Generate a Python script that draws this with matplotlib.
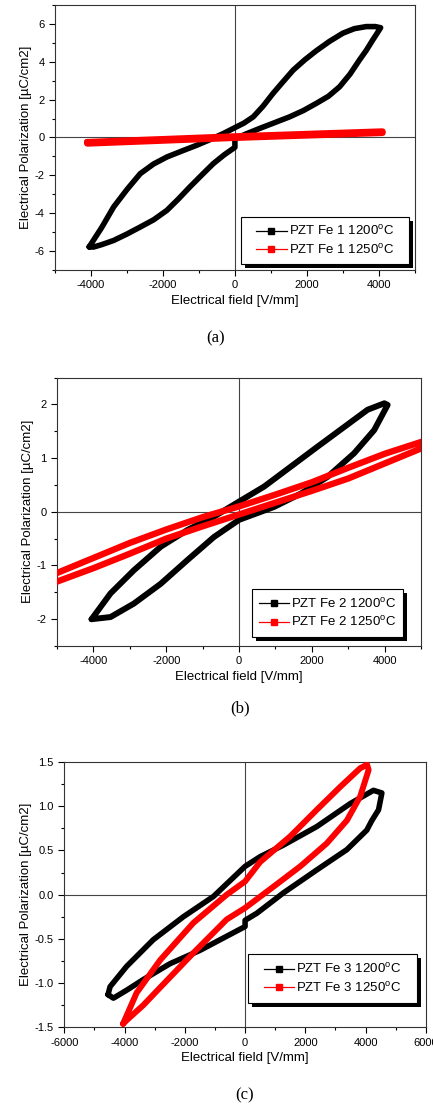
import matplotlib
matplotlib.use('Agg')
import matplotlib.pyplot as plt
import matplotlib.patheffects as pe
from matplotlib.lines import Line2D
from matplotlib.patches import Rectangle
from matplotlib.ticker import MultipleLocator

plt.rcParams['font.family'] = ['Liberation Sans', 'DejaVu Sans']
plt.rcParams['mathtext.fontset'] = 'custom'
plt.rcParams['mathtext.rm'] = 'Liberation Sans'
plt.rcParams['axes.unicode_minus'] = False

# P-E hysteresis loops, field in V/mm, polarization in uC/cm2
# each loop is one closed path: upper branch left->right, then back along the lower branch
fe1_1200_E = [-4050, -3700, -3370, -3000, -2630, -2260, -1890, -1480, -1060, -700, -320, 0,
              250, 510, 780, 1060, 1340, 1620, 1940, 2260, 2630, 3000, 3320, 3650, 3900, 4050,
              3950, 3830, 3650, 3460, 3200, 2910, 2600, 2260, 1900, 1520, 1100, 690, 300, 0,
              0, -300, -600, -920, -1250, -1570, -1890, -2260, -2630, -3000, -3370, -3700, -3930, -4050]
fe1_1200_P = [-5.78, -4.75, -3.67, -2.75, -1.91, -1.40, -1.03, -0.72, -0.41, -0.12, 0.21, 0.52,
              0.76, 1.09, 1.65, 2.33, 2.95, 3.56, 4.10, 4.58, 5.08, 5.51, 5.75, 5.86, 5.86, 5.80,
              5.50, 5.15, 4.60, 4.09, 3.35, 2.68, 2.18, 1.80, 1.42, 1.09, 0.78, 0.48, 0.18, -0.08,
              -0.52, -0.92, -1.38, -1.98, -2.61, -3.25, -3.85, -4.35, -4.73, -5.10, -5.44, -5.66, -5.79, -5.78]
fe1_1250_E = [-4100, 0, 4100, 4100, 0, -4100, -4100]
fe1_1250_P = [-0.25, 0.05, 0.31, 0.25, -0.01, -0.31, -0.25]

fe2_1200_E = [-4050, -3530, -2890, -2150, -1420, -690, 0, 690, 1420, 2150, 2890, 3530, 3990, 4080,
              3710, 3160, 2430, 1700, 960, 0, -690, -1420, -2150, -2890, -3530, -4050]
fe2_1200_P = [-2.00, -1.52, -1.09, -0.65, -0.34, -0.09, 0.19, 0.47, 0.84, 1.21, 1.58, 1.90, 2.02, 1.99,
              1.52, 1.09, 0.65, 0.34, 0.09, -0.15, -0.47, -0.90, -1.34, -1.71, -1.96, -2.00]
fe2_1250_E = [-5300, -5000, -4000, -3000, -2000, -1000, 0, 1000, 2000, 3000, 4000, 5000, 5300,
              5000, 4000, 3000, 2000, 1000, 0, -1000, -2000, -3000, -4000, -5000, -5300]
fe2_1250_P = [-1.31, -1.14, -0.86, -0.58, -0.33, -0.10, 0.10, 0.32, 0.55, 0.82, 1.08, 1.30, 1.33,
              1.18, 0.90, 0.62, 0.39, 0.17, -0.05, -0.27, -0.50, -0.78, -1.05, -1.30, -1.31]

fe3_1200_E = [-4550, -4480, -3930, -3050, -2050, -1050, 0, 500, 1270, 2380, 3490, 4260, 4540,
              4430, 4210, 4040, 3380, 2380, 1270, 390, 0,
              0, -610, -1500, -2490, -3380, -3930, -4370, -4550]
fe3_1200_P = [-1.13, -1.04, -0.81, -0.51, -0.25, -0.02, 0.32, 0.43, 0.56, 0.77, 1.03, 1.18, 1.15,
              0.96, 0.84, 0.73, 0.51, 0.28, 0.02, -0.21, -0.29,
              -0.36, -0.47, -0.63, -0.78, -0.96, -1.08, -1.17, -1.13]
fe3_1250_E = [-4050, -3600, -2820, -1720, -610, 0, 500, 1500, 2380, 3160, 3820, 4050,
              4100, 3820, 3380, 2710, 1830, 940, 0, -610, -1720, -2820, -3380, -3930, -4050]
fe3_1250_P = [-1.46, -1.11, -0.74, -0.32, 0.00, 0.15, 0.37, 0.66, 0.96, 1.22, 1.43, 1.47,
              1.41, 1.11, 0.84, 0.58, 0.32, 0.09, -0.15, -0.28, -0.66, -1.05, -1.25, -1.42, -1.46]

panels = [
    dict(rect=[0.127, 0.757, 0.831, 0.2385], xlim=(-5000, 5000), ylim=(-7, 7), ymaj=2, ymin=1,
         xmaj=2000, yfmt='%d', num=1,
         loops=[(fe1_1200_E, fe1_1200_P, 4.0), (fe1_1250_E, fe1_1250_P, 4.8)],
         box=(0.517, 0.023, 0.983, 0.200), tag='(a)', tag_xy=(216, 338)),
    dict(rect=[0.1316, 0.4185, 0.841, 0.2417], xlim=(-5000, 5000), ylim=(-2.5, 2.5), ymaj=1, ymin=0.5,
         xmaj=2000, yfmt='%d', num=2,
         loops=[(fe2_1200_E, fe2_1200_P, 4.3), (fe2_1250_E, fe2_1250_P, 4.6)],
         box=(0.536, 0.034, 0.951, 0.212), tag='(b)', tag_xy=(240, 708)),
    dict(rect=[0.1485, 0.0753, 0.835, 0.2388], xlim=(-6000, 6000), ylim=(-1.5, 1.5), ymaj=0.5, ymin=0.25,
         xmaj=2000, yfmt='%.1f', num=3,
         loops=[(fe3_1200_E, fe3_1200_P, 4.0), (fe3_1250_E, fe3_1250_P, 4.3)],
         box=(0.508, 0.092, 0.976, 0.276), tag='(c)', tag_xy=(245, 1095)),
]

colors = ['black', '#ff0000']
temps = ['1200', '1250']

fig = plt.figure(figsize=(4.33, 11.11), dpi=100)

for p in panels:
    ax = fig.add_axes(p['rect'])
    ax.axhline(0, color='#444444', lw=0.8, zorder=1)
    ax.axvline(0, color='#444444', lw=0.8, zorder=1)
    for (E, P, lw), c in zip(p['loops'], colors):
        ax.plot(E, P, color=c, lw=lw, solid_joinstyle='round', solid_capstyle='round', zorder=3)
    ax.set_xlim(*p['xlim'])
    ax.set_ylim(*p['ylim'])
    ax.xaxis.set_major_locator(MultipleLocator(p['xmaj']))
    ax.xaxis.set_minor_locator(MultipleLocator(p['xmaj'] / 2))
    ax.yaxis.set_major_locator(MultipleLocator(p['ymaj']))
    ax.yaxis.set_minor_locator(MultipleLocator(p['ymin']))
    ax.yaxis.set_major_formatter(plt.FormatStrFormatter(p['yfmt']))
    ax.tick_params(which='both', direction='out', top=False, right=False, labelsize=8, width=0.8)
    ax.tick_params(which='major', length=4)
    ax.tick_params(which='minor', length=2.5)
    for s in ax.spines.values():
        s.set_linewidth(0.8)
        s.set_color('#333333')
    ax.set_xlabel('Electrical field [V/mm]', fontsize=9.5, labelpad=3)
    ax.set_ylabel('Electrical Polarization [µC/cm2]', fontsize=9.5, labelpad=2)

    # legend box with a solid drop shadow, drawn separately so its size can be fixed
    x0, y0, x1, y1 = p['box']
    frame = Rectangle((x0, y0), x1 - x0, y1 - y0, transform=ax.transAxes, facecolor='white',
                      edgecolor='black', lw=0.8, zorder=5, clip_on=False)
    frame.set_path_effects([pe.SimplePatchShadow(offset=(3, -3), shadow_rgbFace='black', alpha=1),
                            pe.Normal()])
    ax.add_patch(frame)

    handles = [Line2D([], [], color=c, lw=0.9, marker='s', ms=5) for c in colors]
    labels = ['PZT Fe %d %s$^\\mathregular{o}$C' % (p['num'], t) for t in temps]
    leg = ax.legend(handles, labels, loc='center', bbox_to_anchor=((x0 + x1) / 2, (y0 + y1) / 2),
                    borderaxespad=0, fontsize=9.5, frameon=False, borderpad=0,
                    labelspacing=0.35, handlelength=2.3, handletextpad=0.15)
    leg.set_zorder(6)

    fig.text(p['tag_xy'][0] / 433, 1 - p['tag_xy'][1] / 1111, p['tag'], family='Liberation Serif',
             fontsize=12, ha='center', va='center')

fig.savefig('out.png', dpi=100)
